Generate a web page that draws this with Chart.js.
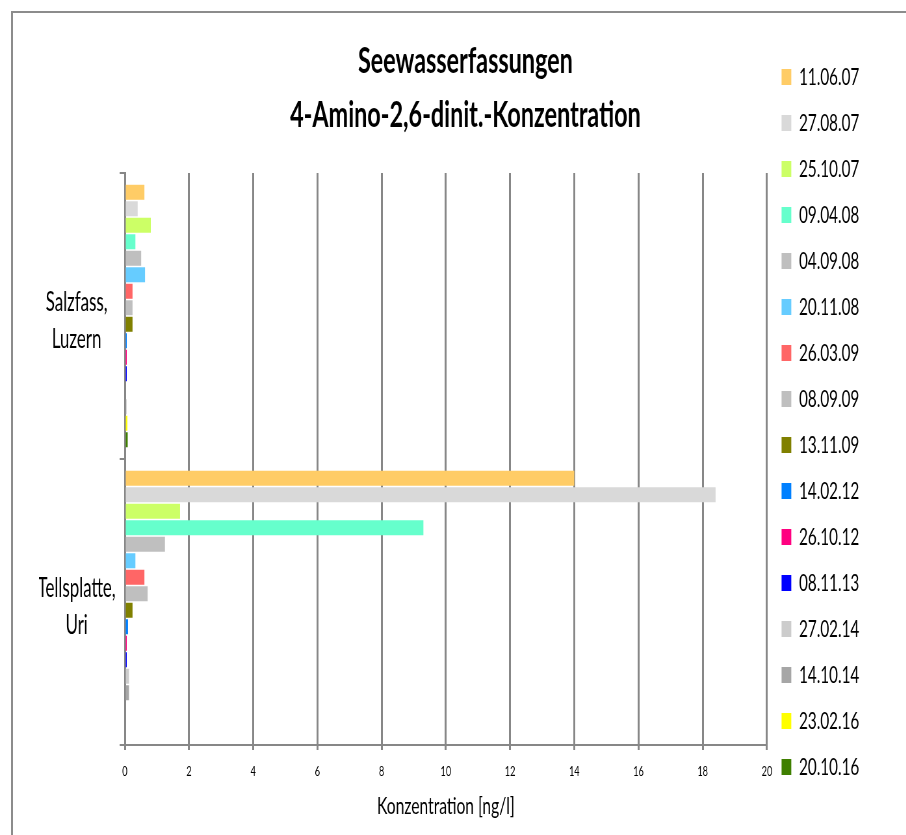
<!DOCTYPE html>
<html>
<head>
<meta charset="utf-8">
<script src="https://cdn.jsdelivr.net/npm/chart.js@4/dist/chart.umd.min.js"></script>
<style>
    html, body {
        margin: 0;
        padding: 0;
        background: #ffffff;
        overflow: hidden;
    }
    /* the source picture is horizontally squeezed, so the chart is drawn
       wider and compressed back to 906px */
    #wrap {
        position: absolute;
        left: 0;
        top: 0;
        width: 1394px;
        height: 835px;
        transform: scaleX(0.65);
        transform-origin: 0 0;
    }
    #frame {
        position: absolute;
        left: 11px;
        top: 11px;
        width: 895px;
        height: 824px;
        box-sizing: border-box;
        border-top: 2px solid #8c8c8c;
        border-left: 2px solid #8c8c8c;
        pointer-events: none;
    }
</style>
</head>
<body>
<div id="wrap"><canvas id="chart" width="1394" height="835"></canvas></div>
<div id="frame"></div>
<script>

// measuring points (categories)
const categories = [
    ['Salzfass,', 'Luzern'],
    ['Tellsplatte,', 'Uri']
]

// sampling dates (one series each)
const sampleDates = [
    '11.06.07', '27.08.07', '25.10.07', '09.04.08',
    '04.09.08', '20.11.08', '26.03.09', '08.09.09',
    '13.11.09', '14.02.12', '26.10.12', '08.11.13',
    '27.02.14', '14.10.14', '23.02.16', '20.10.16'
]

// concentration [ng/l] per date
const salzfassValues = [
    0.61, 0.40, 0.81, 0.33,
    0.51, 0.63, 0.24, 0.24,
    0.24, 0.06, 0.06, 0.06,
    0.03, 0.05, 0.08, 0.09
]

const tellsplatteValues = [
    14.0, 18.4, 1.72, 9.3,
    1.25, 0.33, 0.61, 0.71,
    0.24, 0.10, 0.06, 0.06,
    0.13, 0.13, null, null
]

const xTickValues = [0, 2, 4, 6, 8, 10, 12, 14, 16, 18, 20]

const barColors = [
    '#ffcc66', '#d9d9d9', '#ccff66', '#66ffcc',
    '#bfbfbf', '#66ccff', '#ff6666', '#bfbfbf',
    '#808000', '#0080ff', '#ff0080', '#0000ff',
    '#cccccc', '#a6a6a6', '#ffff00', '#3f7f00'
]

const fontFamily = "Lato, 'Open Sans', 'Noto Sans', sans-serif"
const lineGrey = '#878787'

const datasets = sampleDates.map((date, i) => ({
    label: date,
    data: [salzfassValues[i], tellsplatteValues[i]],
    backgroundColor: barColors[i],
    borderWidth: 0
}))

// the original title sits a bit right of the canvas middle
const titleShift = {
    id: 'titleShift',
    afterLayout(chart) {
        chart.titleBlock.left += 40
    }
}

new Chart(
    document.getElementById('chart'),
    {
        type: 'bar',

        data: {
            labels: categories,
            datasets
        },

        plugins: [titleShift],

        options: {
            indexAxis: 'y',
            responsive: false,
            animation: false,
            devicePixelRatio: 1,

            layout: {
                padding: { left: 60, right: 62, top: 14, bottom: 5 }
            },

            datasets: {
                bar: {
                    categoryPercentage: 0.923,
                    barPercentage: 0.91
                }
            },

            scales: {
                x: {
                    min: 0,
                    max: 20,
                    afterBuildTicks: (scale) => {
                        scale.ticks = xTickValues.map(v => ({ value: v }))
                    },
                    ticks: {
                        color: '#000000',
                        padding: 12.6,
                        maxRotation: 0,
                        font: { family: fontFamily, size: 14 }
                    },
                    grid: {
                        color: lineGrey,
                        lineWidth: 3,
                        tickLength: 5
                    },
                    border: { color: lineGrey, width: 2 },
                    title: {
                        display: true,
                        text: 'Konzentration [ng/l]',
                        color: '#000000',
                        font: { family: fontFamily, size: 24 },
                        padding: { top: 0, bottom: 9.2 }
                    }
                },

                y: {
                    afterFit: (scale) => {
                        scale.width = 132
                    },
                    ticks: {
                        color: '#000000',
                        crossAlign: 'center',
                        padding: 6,
                        labelOffset: 5,
                        font: { family: fontFamily, size: 26, lineHeight: 1.42 }
                    },
                    grid: {
                        offset: true,
                        drawOnChartArea: false,
                        color: lineGrey,
                        lineWidth: 2,
                        tickLength: 8
                    },
                    border: { color: lineGrey, width: 3 }
                }
            },

            plugins: {
                title: {
                    display: true,
                    text: ['Seewasserfassungen', '4-Amino-2,6-dinit.-Konzentration'],
                    color: '#000000',
                    font: { family: fontFamily, size: 36, weight: 'bold', lineHeight: 1.51 },
                    padding: { top: 20, bottom: 30.3 }
                },
                legend: {
                    position: 'right',
                    labels: {
                        boxWidth: 15,
                        boxHeight: 16,
                        padding: 22.5,
                        color: '#000000',
                        font: { family: fontFamily, size: 23.5 }
                    }
                },
                tooltip: { enabled: false }
            }
        }
    }
)
</script>
</body>
</html>
